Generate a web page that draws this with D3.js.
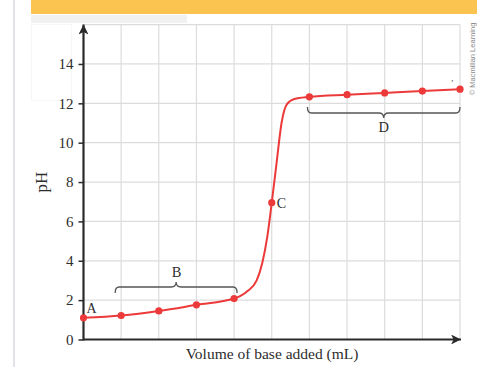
<!DOCTYPE html>
<html><head><meta charset="utf-8">
<script src="https://cdn.jsdelivr.net/npm/d3@7"></script>
<style>body{margin:0;background:#fff}svg{display:block}</style>
</head><body>
<script>
// Data
const markerX = [0, 1, 2, 3, 4, 5, 6, 7, 8, 9, 10];
const markerPH = [1.1, 1.22, 1.45, 1.76, 2.08, 6.95, 12.33, 12.44, 12.53, 12.62, 12.72];
const curveX = [0, 1, 2, 3, 4, 4.35, 4.6, 4.75, 4.88, 5, 5.13, 5.26, 5.4, 5.6, 6, 7, 8, 9, 10];
const curvePH = [1.1, 1.22, 1.45, 1.76, 2.08, 2.45, 3.0, 3.9, 5.2, 6.95, 9.0, 11.0, 11.95, 12.22, 12.33, 12.44, 12.53, 12.62, 12.72];
const yTicks = [0, 2, 4, 6, 8, 10, 12, 14];
const xGrid = [1, 2, 3, 4, 5, 6, 7, 8, 9, 10];
const pointLabels = [{t: "A", x: 0, v: 1.1}, {t: "C", x: 5, v: 6.95}];
const braceB = [1, 4, 2.4];   // from, to, pH level
const braceD = [6, 10, 11.5];
const xTitle = "Volume of base added (mL)";
const yTitle = "pH";

const W = 477, H = 367;
const svg = d3.select("body").append("svg").attr("width", W).attr("height", H);
const x = d3.scaleLinear().domain([0, 10]).range([83.5, 460]);
const y = d3.scaleLinear().domain([0, 16]).range([339.5, 24.6]);
const serif = "Liberation Serif, Times New Roman, serif";
const txt = "#2e2e2e";

// page decorations
svg.append("rect").attr("x", 31).attr("y", 0).attr("width", 446).attr("height", 14).attr("fill", "#fbc451");
svg.append("rect").attr("x", 31).attr("y", 15).attr("width", 156).attr("height", 8).attr("fill", "#f1f1f1");
svg.append("rect").attr("x", 13).attr("y", 0).attr("width", 2).attr("height", H).attr("fill", "#e2e2ea");
svg.append("rect").attr("x", 31.5).attr("y", 24.5).attr("width", 40).attr("height", 76).attr("fill", "none").attr("stroke", "#f7f7f7");

// grid
const g = svg.append("g");
g.selectAll(".hg").data(yTicks.filter(d => d > 0).concat([16])).join("line")
  .attr("x1", x(0)).attr("x2", x(10)).attr("y1", d => y(d)).attr("y2", d => y(d))
  .attr("stroke", "#dcdcdc").attr("stroke-width", 1.2);
g.selectAll(".vg").data(xGrid).join("line")
  .attr("x1", d => x(d)).attr("x2", d => x(d)).attr("y1", y(0)).attr("y2", y(16))
  .attr("stroke", "#dcdcdc").attr("stroke-width", 1.2);

// axes
const defs = svg.append("defs");
defs.append("marker").attr("id", "arr").attr("viewBox", "0 0 10 10").attr("refX", 10).attr("refY", 5)
  .attr("markerWidth", 5).attr("markerHeight", 4.5).attr("orient", "auto").attr("markerUnits", "strokeWidth")
  .append("path").attr("d", "M0,0 L10,5 L0,10 L2.5,5 Z").attr("fill", "#2a2a2a");
svg.append("line").attr("x1", x(0)).attr("x2", x(10) + 1).attr("y1", y(0)).attr("y2", y(0))
  .attr("stroke", "#2a2a2a").attr("stroke-width", 2.2).attr("marker-end", "url(#arr)");
svg.append("line").attr("x1", x(0)).attr("x2", x(0)).attr("y1", y(0) + 1).attr("y2", y(16))
  .attr("stroke", "#2a2a2a").attr("stroke-width", 2.2).attr("marker-end", "url(#arr)");

const yAxis = d3.axisLeft(y).tickValues(yTicks).tickSize(5).tickPadding(5);
const ya = svg.append("g").attr("transform", `translate(${x(0)},0)`).call(yAxis);
ya.select(".domain").remove();
ya.selectAll(".tick line").attr("stroke", "#2a2a2a").attr("stroke-width", 1.5);
ya.selectAll(".tick text").attr("font-family", serif).attr("font-size", 15).attr("fill", txt);

// titles
svg.append("text").attr("transform", `translate(41,${y(8)}) rotate(-90)`).attr("text-anchor", "middle")
  .attr("dy", "0.35em").attr("font-family", serif).attr("font-size", 17).attr("fill", txt).text(yTitle);
svg.append("text").attr("x", 272).attr("y", 359).attr("text-anchor", "middle")
  .attr("font-family", serif).attr("font-size", 15.5).attr("fill", txt).text(xTitle);

// curve
const pts = curveX.map((d, i) => [d, curvePH[i]]);
svg.append("path").datum(pts)
  .attr("d", d3.line().x(d => x(d[0])).y(d => y(d[1])).curve(d3.curveMonotoneX))
  .attr("fill", "none").attr("stroke", "#ec3a3a").attr("stroke-width", 2);
svg.selectAll(".pt").data(markerX).join("circle")
  .attr("cx", d => x(d)).attr("cy", (d, i) => y(markerPH[i])).attr("r", 3.6).attr("fill", "#ec3a3a");

// point labels
svg.append("text").attr("x", x(0) + 3).attr("y", y(1.1) - 4.5).attr("font-family", serif)
  .attr("font-size", 14).attr("fill", txt).text(pointLabels[0].t);
svg.append("text").attr("x", x(5) + 5).attr("y", y(6.95) + 5).attr("font-family", serif)
  .attr("font-size", 14).attr("fill", txt).text(pointLabels[1].t);

// braces
function brace(x1, x2, yy, dir) {
  const m = (x1 + x2) / 2, r = 4, p = 5;
  return `M${x1},${yy - dir * 6} Q${x1},${yy} ${x1 + r},${yy} L${m - p},${yy} Q${m},${yy} ${m},${yy + dir * 5} Q${m},${yy} ${m + p},${yy} L${x2 - r},${yy} Q${x2},${yy} ${x2},${yy - dir * 6}`;
}
svg.append("path").attr("d", brace(x(braceB[0]) - 6, x(braceB[1]) + 3, 287, -1))
  .attr("fill", "none").attr("stroke", "#555").attr("stroke-width", 1.3);
svg.append("text").attr("x", (x(braceB[0]) + x(braceB[1])) / 2 - 1).attr("y", 277).attr("text-anchor", "middle")
  .attr("font-family", serif).attr("font-size", 14.5).attr("fill", txt).text("B");
svg.append("path").attr("d", brace(x(braceD[0]) - 2, x(braceD[1]), 113, 1))
  .attr("fill", "none").attr("stroke", "#555").attr("stroke-width", 1.3);
svg.append("text").attr("x", (x(braceD[0]) + x(braceD[1])) / 2 - 1).attr("y", 132).attr("text-anchor", "middle")
  .attr("font-family", serif).attr("font-size", 14.5).attr("fill", txt).text("D");

// small mark near last point
svg.append("text").attr("x", 451).attr("y", 87).attr("font-family", "DejaVu Sans, sans-serif")
  .attr("font-size", 8).attr("fill", "#555").text("\u2019");

// copyright
svg.append("text").attr("transform", "translate(474.5,59) rotate(-90)").attr("text-anchor", "middle")
  .attr("font-family", "Liberation Sans, Arial, sans-serif").attr("font-size", 7.5).attr("fill", "#8a8a8a").text("\u00a9 Macmillan Learning");
</script>
</body></html>
